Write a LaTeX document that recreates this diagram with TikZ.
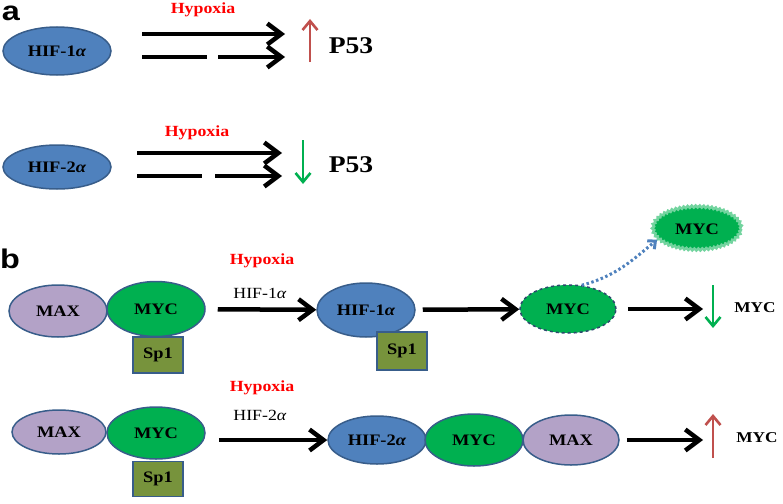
\documentclass[tikz,border=0pt]{standalone}
\usepackage{fontspec}
\setmainfont{Liberation Serif}[FakeStretch=1.15]
\setsansfont{Liberation Sans}[FakeStretch=1.2]
\usetikzlibrary{shapes.geometric,arrows.meta,decorations.pathmorphing}
\definecolor{hifblue}{HTML}{4F81BD}
\definecolor{edgeblue}{HTML}{385D8A}
\definecolor{maxlilac}{HTML}{B3A2C7}
\definecolor{mycgreen}{HTML}{00B050}
\definecolor{spolive}{HTML}{77933C}
\definecolor{upred}{HTML}{C0504D}
\tikzset{
  prot/.style={ellipse, draw=edgeblue, line width=1.5pt, inner sep=0pt,
    font=\bfseries\fontsize{16}{16}\selectfont},
  hifnode/.style={prot, fill=hifblue},
  maxnode/.style={prot, fill=maxlilac},
  mycnode/.style={prot, fill=mycgreen},
  spbox/.style={draw=edgeblue, fill=spolive, line width=1.5pt, inner sep=0pt,
    minimum width=50, minimum height=36, font=\bfseries\fontsize{16}{16}\selectfont},
  hyplabel/.style={text=red, inner sep=0pt, font=\bfseries\fontsize{15.5}{15.5}\selectfont},
  hiflabel/.style={inner sep=0pt, font=\fontsize{15.5}{15.5}\selectfont},
  panel/.style={inner sep=0pt, font=\sffamily\bfseries\fontsize{27}{27}\selectfont},
  bigarr/.style={line width=4.5pt, -{Straight Barb[length=14pt,width=21pt]}},
  bigline/.style={line width=4.5pt},
  uparr/.style={line width=2.6pt, upred, -{Straight Barb[length=9pt,width=15pt]}},
  downarr/.style={line width=2.6pt, mycgreen, -{Straight Barb[length=9pt,width=15pt]}},
}
\begin{document}
\begin{tikzpicture}[x=1pt,y=-1pt]
\useasboundingbox (0,0) rectangle (783,503);
% panel a
\node[panel] (pa) at (11,13) {a};
\node[hifnode, minimum width=108, minimum height=48] (hifa1) at (57,51) {HIF-1\textit{α}};
\node[hifnode, minimum width=108, minimum height=44] (hifa2) at (57,167) {HIF-2\textit{α}};
\node[hyplabel] (hypa1) at (203,10) {Hypoxia};
\node[hyplabel] (hypa2) at (197,133) {Hypoxia};
\node[inner sep=0pt, font=\bfseries\fontsize{24}{24}\selectfont] (p53up) at (351,46) {P53};
\node[inner sep=0pt, font=\bfseries\fontsize{24}{24}\selectfont] (p53dn) at (351,165) {P53};
\coordinate (a1s) at (142,34);  \coordinate (a1e) at (285,34);
\coordinate (a2s) at (142,57);  \coordinate (a2m) at (207,57);
\coordinate (a2n) at (218,57);  \coordinate (a2e) at (285,57);
\coordinate (b1s) at (137,153); \coordinate (b1e) at (282,153);
\coordinate (b2s) at (137,176); \coordinate (b2m) at (202,176);
\coordinate (b2n) at (215,176); \coordinate (b2e) at (282,176);
\draw[bigarr] (a1s) -- (a1e);
\draw[bigline] (a2s) -- (a2m);
\draw[bigarr] (a2n) -- (a2e);
\draw[bigarr] (b1s) -- (b1e);
\draw[bigline] (b2s) -- (b2m);
\draw[bigarr] (b2n) -- (b2e);
\coordinate (ua0) at (310,62); \coordinate (ua1) at (310,19);
\coordinate (da0) at (303,140); \coordinate (da1) at (303,184);
\draw[uparr] (ua0) -- (ua1);
\draw[downarr] (da0) -- (da1);
% panel b, first row
\node[panel] (pb) at (10,259) {b};
\node[maxnode, minimum width=98, minimum height=52] (max1) at (58,311) {MAX};
\node[mycnode, minimum width=98, minimum height=55] (myc1) at (156,309) {MYC};
\node[spbox] (spa) at (158,355) {Sp1};
\node[hyplabel] (hypb1) at (262,261) {Hypoxia};
\node[hiflabel] (hifl1) at (260,293) {HIF-1\textit{α}};
\node[hifnode, minimum width=98, minimum height=54] (hif1) at (366,310) {HIF-1\textit{α}};
\node[spbox, minimum height=38] (spb) at (402,351) {Sp1};
\node[mycnode, dashed, draw=edgeblue!80!black, minimum width=96, minimum height=48] (mycd) at (568,309) {MYC};
\node[mycnode, draw=mycgreen!55, line width=2.5pt, minimum width=88, minimum height=43,
  decorate, decoration={snake, segment length=4pt, amplitude=1pt}] (mycfree) at (697,229) {MYC};
\node[inner sep=0pt, font=\bfseries\fontsize{15}{15}\selectfont] (mycout1) at (755,308) {MYC};
\coordinate (e1) at (703,309);
\draw[bigarr, shorten <=12pt] (myc1) -- (hif1);
\draw[bigarr, shorten <=7pt] (hif1) -- (mycd);
\draw[bigarr, shorten <=11pt] (mycd.east) -- (e1);
\draw[hifblue, line width=3pt, dash pattern=on 2.5pt off 2.5pt, -{Straight Barb[length=6pt,width=11pt]}]
  (mycd.60) to[out=15,in=220] (mycfree.195);
\coordinate (dc0) at (713,285); \coordinate (dc1) at (713,328);
\draw[downarr] (dc0) -- (dc1);
% panel b, second row
\node[maxnode, minimum width=94, minimum height=44] (max2) at (59,432) {MAX};
\node[mycnode, minimum width=98, minimum height=52] (myc2) at (156,433) {MYC};
\node[spbox, minimum height=35] (spc) at (158,479) {Sp1};
\node[hyplabel] (hypb2) at (262,388) {Hypoxia};
\node[hiflabel] (hifl2) at (260,415) {HIF-2\textit{α}};
\node[hifnode, minimum width=98, minimum height=48] (hif2) at (377,440) {HIF-2\textit{α}};
\node[mycnode, minimum width=98, minimum height=52] (myc3) at (474,440) {MYC};
\node[maxnode, minimum width=96, minimum height=50] (max3) at (571,440) {MAX};
\node[inner sep=0pt, font=\bfseries\fontsize{15}{15}\selectfont] (mycout2) at (757,438) {MYC};
\coordinate (e2) at (703,440);
\draw[bigarr, shorten <=13pt] (myc2.east |- hif2.west) -- (hif2.west);
\draw[bigarr, shorten <=7pt] (max3.east) -- (e2);
\coordinate (uc0) at (713,458); \coordinate (uc1) at (713,414);
\draw[uparr] (uc0) -- (uc1);
\end{tikzpicture}
\end{document}
